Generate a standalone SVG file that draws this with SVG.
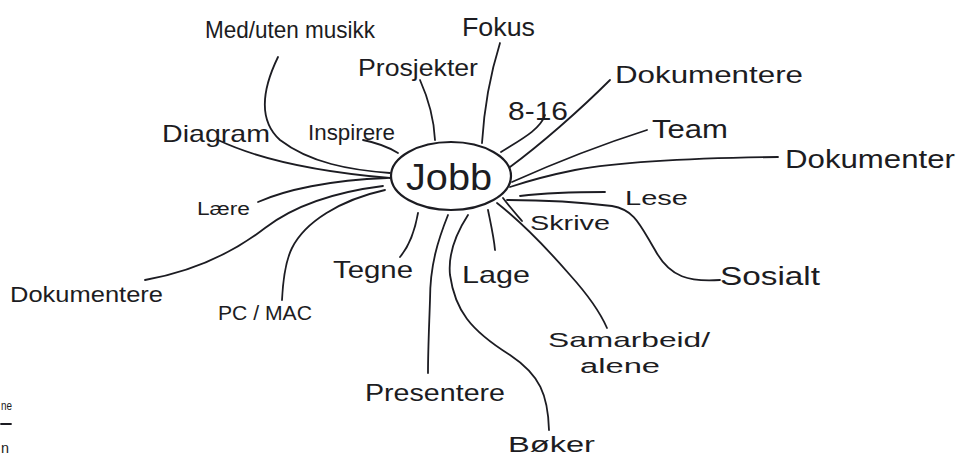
<svg xmlns="http://www.w3.org/2000/svg" width="963" height="456" viewBox="0 0 963 456">
<style>
.bg{fill:#ffffff}
.ln{fill:none;stroke:#1c1c22;stroke-width:1.8;stroke-linecap:round;stroke-linejoin:round}
.t{font-family:"Liberation Sans","DejaVu Sans",sans-serif;fill:#1c1c22}
.hub{fill:#ffffff;stroke:#1c1c22;stroke-width:2.2}
</style>
<rect class="bg" x="0" y="0" width="963" height="456"/>
<g id="connectors">
  <path class="ln" d="M278,57 C262,90 258,120 280,140 C310,163 350,170 390,173"/>
  <path class="ln" d="M218,140 C260,160 320,172 390,178"/>
  <path class="ln" d="M363,140 C378,143 390,148 398,153"/>
  <path class="ln" d="M420,80 C428,98 434,118 435,140"/>
  <path class="ln" d="M500,43 C490,75 484,110 482,143"/>
  <path class="ln" d="M545,115 C540,130 520,140 501,152"/>
  <path class="ln" d="M610,80 C580,110 540,145 510,167"/>
  <path class="ln" d="M647,130 C600,145 550,165 512,182"/>
  <path class="ln" d="M778,157 C700,158 620,162 575,170 C545,176 525,182 510,187"/>
  <path class="ln" d="M605,192 C575,192 545,193 520,196"/>
  <path class="ln" d="M720,280 C690,282 670,278 655,250 C640,225 635,210 612,206 C580,202 540,200 507,200"/>
  <path class="ln" d="M522,221 C516,214 509,206 503,198"/>
  <path class="ln" d="M497,203 C525,225 550,252 570,275 C588,295 600,312 607,328"/>
  <path class="ln" d="M488,210 C491,225 494,238 495,250"/>
  <path class="ln" d="M468,215 C455,235 448,255 450,275 C455,310 470,330 510,355 C540,375 548,395 549,430"/>
  <path class="ln" d="M448,215 C438,240 430,265 430,300 C429,330 428,350 428,373"/>
  <path class="ln" d="M418,213 C415,230 410,245 400,257"/>
  <path class="ln" d="M282,300 C283,280 285,262 292,248 C305,222 340,200 385,190"/>
  <path class="ln" d="M145,280 C190,272 230,255 265,228 C295,205 335,192 383,186"/>
  <path class="ln" d="M258,202 C285,190 330,180 387,178"/>
</g>
<g id="node-jobb">
  <ellipse class="hub" cx="451" cy="176" rx="60" ry="34"/>
  <text class="t" x="406" y="190" font-size="36" textLength="86" lengthAdjust="spacingAndGlyphs">Jobb</text>
</g>
<g id="node-musikk"><text class="t" x="205" y="38" font-size="24" textLength="170" lengthAdjust="spacingAndGlyphs">Med/uten musikk</text></g>
<g id="node-fokus"><text class="t" x="462" y="36" font-size="26" textLength="73" lengthAdjust="spacingAndGlyphs">Fokus</text></g>
<g id="node-prosjekter"><text class="t" x="358" y="76" font-size="24" textLength="120" lengthAdjust="spacingAndGlyphs">Prosjekter</text></g>
<g id="node-816"><text class="t" x="508" y="120" font-size="26" textLength="60" lengthAdjust="spacingAndGlyphs">8-16</text></g>
<g id="node-dokumentere-top"><text class="t" x="615" y="83" font-size="24" textLength="188" lengthAdjust="spacingAndGlyphs">Dokumentere</text></g>
<g id="node-team"><text class="t" x="652" y="138" font-size="26" textLength="76" lengthAdjust="spacingAndGlyphs">Team</text></g>
<g id="node-dokumenter"><text class="t" x="785" y="168" font-size="26" textLength="170" lengthAdjust="spacingAndGlyphs">Dokumenter</text></g>
<g id="node-lese"><text class="t" x="625" y="205" font-size="20" textLength="63" lengthAdjust="spacingAndGlyphs">Lese</text></g>
<g id="node-skrive"><text class="t" x="530" y="230" font-size="20" textLength="80" lengthAdjust="spacingAndGlyphs">Skrive</text></g>
<g id="node-sosialt"><text class="t" x="720" y="285" font-size="26" textLength="100" lengthAdjust="spacingAndGlyphs">Sosialt</text></g>
<g id="node-samarbeid">
  <text class="t" x="548" y="347" font-size="21" textLength="162" lengthAdjust="spacingAndGlyphs">Samarbeid/</text>
  <text class="t" x="580" y="373" font-size="20" textLength="80" lengthAdjust="spacingAndGlyphs">alene</text>
</g>
<g id="node-boker"><text class="t" x="508" y="452" font-size="22" textLength="87" lengthAdjust="spacingAndGlyphs">Bøker</text></g>
<g id="node-presentere"><text class="t" x="365" y="401" font-size="24" textLength="140" lengthAdjust="spacingAndGlyphs">Presentere</text></g>
<g id="node-lage"><text class="t" x="462" y="283" font-size="24" textLength="68" lengthAdjust="spacingAndGlyphs">Lage</text></g>
<g id="node-tegne"><text class="t" x="333" y="278" font-size="24" textLength="80" lengthAdjust="spacingAndGlyphs">Tegne</text></g>
<g id="node-pcmac"><text class="t" x="218" y="320" font-size="20" textLength="94" lengthAdjust="spacingAndGlyphs">PC / MAC</text></g>
<g id="node-dokumentere-left"><text class="t" x="10" y="302" font-size="22" textLength="153" lengthAdjust="spacingAndGlyphs">Dokumentere</text></g>
<g id="node-laere"><text class="t" x="197" y="215" font-size="18" textLength="53" lengthAdjust="spacingAndGlyphs">Lære</text></g>
<g id="node-diagram"><text class="t" x="162" y="142" font-size="24" textLength="108" lengthAdjust="spacingAndGlyphs">Diagram</text></g>
<g id="node-inspirere"><text class="t" x="308" y="140" font-size="22" textLength="87" lengthAdjust="spacingAndGlyphs">Inspirere</text></g>
<g id="edge-fragment">
  <text class="t" x="1" y="410" font-size="13" textLength="11" lengthAdjust="spacingAndGlyphs">ne</text>
  <path class="ln" d="M1,424 L11,424"/>
  <text class="t" x="1" y="453" font-size="14" textLength="8" lengthAdjust="spacingAndGlyphs">n</text>
</g>
</svg>
